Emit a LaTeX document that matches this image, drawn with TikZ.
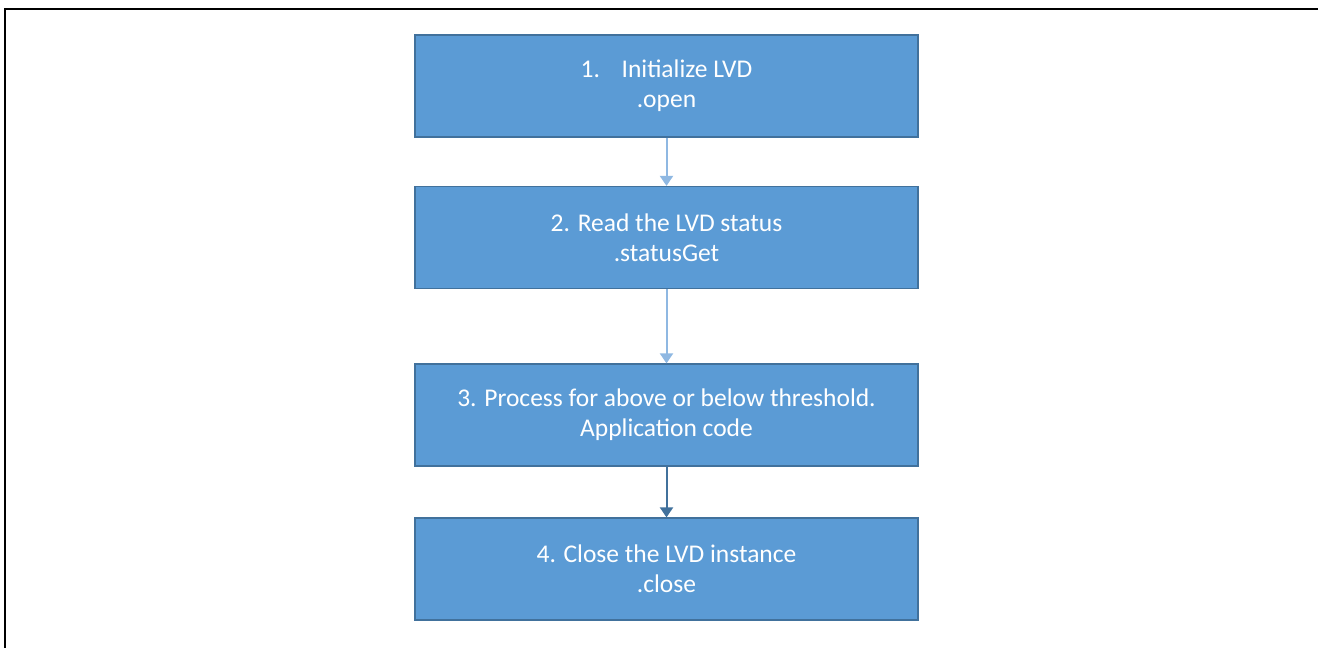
\documentclass[tikz,border=0pt]{standalone}
\usepackage{fontspec}
\setmainfont{Carlito}
\usetikzlibrary{arrows.meta}
\definecolor{boxfill}{HTML}{5B9BD5}
\definecolor{boxedge}{HTML}{41719C}
\definecolor{lightlink}{HTML}{8FB8E2}
\definecolor{darklink}{HTML}{41719C}
\tikzset{
  stepbox/.style={draw=boxedge, line width=1.2pt, fill=boxfill,
    minimum width=503pt, minimum height=102pt, inner sep=0pt,
    text=white, align=center,
    font=\fontsize{25.5pt}{30pt}\selectfont},
  link/.style={line width=2pt, -{Triangle[width=13pt,length=10pt]}},
}
\begin{document}
\begin{tikzpicture}[x=1pt,y=-1pt]
  \useasboundingbox (0,0) rectangle (1318,648);
  % page frame
  \draw[line width=2.5pt] (5,648) -- (5,9) -- (1318,9);
  % steps
  \node[stepbox] (s1) at (666.5,86)  {1.\hspace{0.85em}Initialize LVD\\.open};
  \node[stepbox] (s2) at (666.5,237.5) {2. Read the LVD status\\.statusGet};
  \node[stepbox] (s3) at (666.5,415) {3. Process for above or below threshold.\\Application code};
  \node[stepbox] (s4) at (666.5,569) {4. Close the LVD instance\\.close};
  % connectors
  \draw[link, lightlink] (s1) -- (s2);
  \draw[link, lightlink] (s2) -- (s3);
  \draw[link, darklink] (s3) -- (s4);
\end{tikzpicture}
\end{document}
